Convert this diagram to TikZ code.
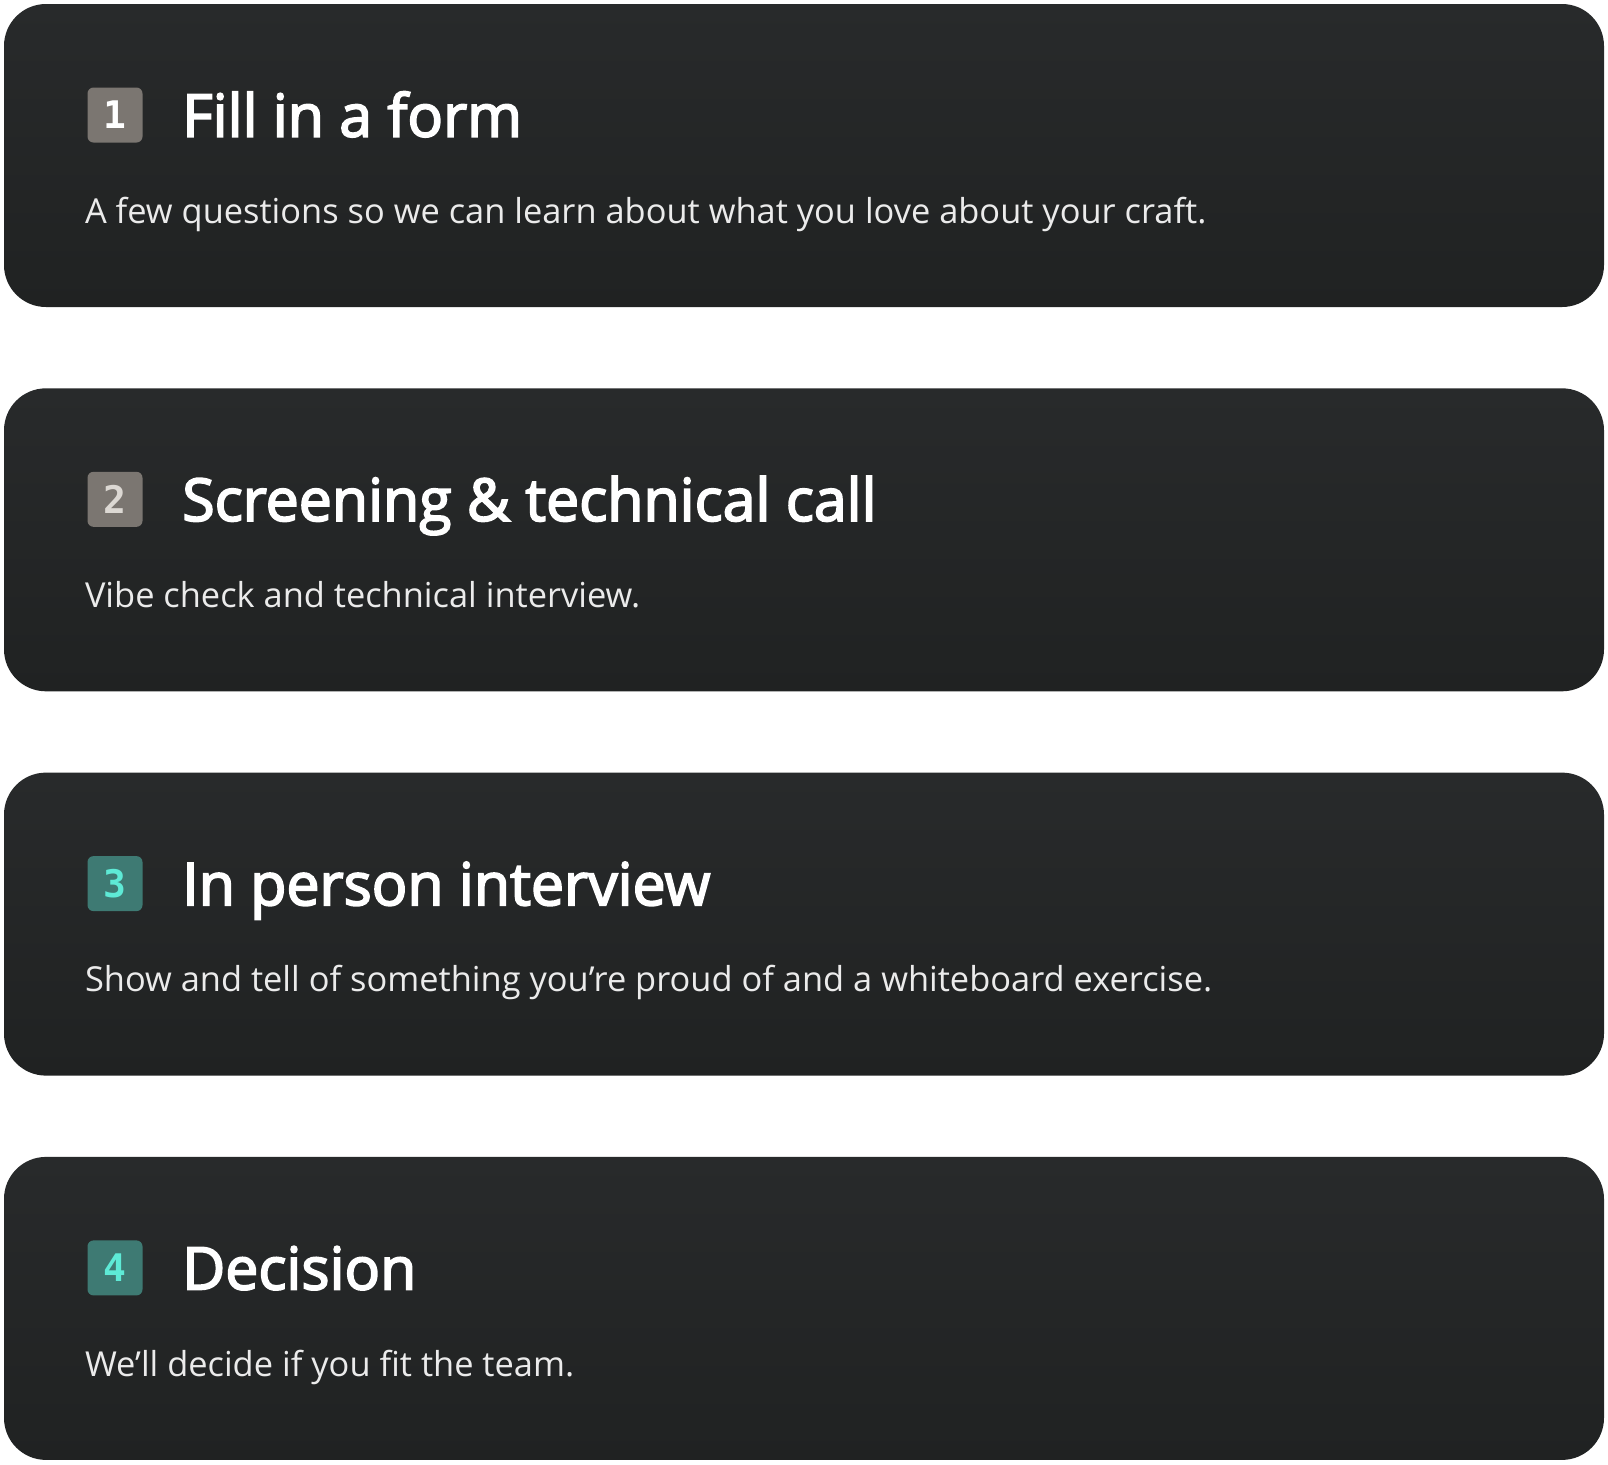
\documentclass[tikz,border=0pt]{standalone}
\usepackage{fontspec}
\setmainfont{Open Sans}
\newfontfamily\titlefont{Open Sans}[FakeBold=3]
\newfontfamily\numfont{DejaVu Sans Mono}
\usepackage{xcolor}
\usetikzlibrary{positioning}

\definecolor{cardtop}{HTML}{282A2B}
\definecolor{cardbot}{HTML}{202222}
\definecolor{badgegray}{HTML}{7B7671}
\definecolor{badgeteal}{HTML}{3E7A73}
\definecolor{numcyan}{HTML}{5EEAD6}
\definecolor{numlight}{HTML}{DCD8D3}

\begin{document}
\begin{tikzpicture}[
    x=0.5pt, y=-0.5pt,
    card/.style={rectangle, rounded corners=21pt, top color=cardtop, bottom color=cardbot, draw=none, minimum width=800pt, minimum height=151.5pt, inner sep=0pt},
    badge/.style={rectangle, rounded corners=3pt, minimum size=27.5pt, inner sep=0pt, font=\numfont\bfseries\fontsize{19}{19}\selectfont},
    graybadge/.style={badge, fill=badgegray, text=white},
    tealbadge/.style={badge, fill=badgeteal, text=numcyan},
    title/.style={anchor=base west, inner sep=0pt, text=white, font=\titlefont\fontsize{29.5}{29.5}\selectfont},
    desc/.style={anchor=base west, inner sep=0pt, text=white!92!black, font=\fontsize{17.2}{17.2}\selectfont}
]
\useasboundingbox (0,0) rectangle (1608,1464);

% cards
\node[card] (form) at (804,155.5) {};
\node[card] (screen) at (804,539.8) {};
\node[card] (inperson) at (804,924.1) {};
\node[card] (decision) at (804,1308.4) {};

% badges
\node[graybadge, below right=41.75pt and 41.75pt of form.north west] (formnum) {1};
\node[graybadge, text=numlight, below right=41.75pt and 41.75pt of screen.north west] (screennum) {2};
\node[tealbadge, below right=41.75pt and 41.75pt of inperson.north west] (inpersonnum) {3};
\node[tealbadge, below right=41.75pt and 41.75pt of decision.north west] (decisionnum) {4};

% titles
\node[title] (formtitle) at ([xshift=19.5pt, yshift=-10.8pt]formnum.east) {Fill in a form};
\node[title] (screentitle) at ([xshift=19.5pt, yshift=-10.8pt]screennum.east) {Screening \& technical call};
\node[title] (inpersontitle) at ([xshift=19.5pt, yshift=-10.8pt]inpersonnum.east) {In person interview};
\node[title] (decisiontitle) at ([xshift=19.5pt, yshift=-10.8pt]decisionnum.east) {Decision};

% descriptions
\node[desc] (formdesc) at ([xshift=40.5pt, yshift=-109.75pt]form.north west) {A few questions so we can learn about what you love about your craft.};
\node[desc] (screendesc) at ([xshift=40.5pt, yshift=-109.75pt]screen.north west) {Vibe check and technical interview.};
\node[desc] (inpersondesc) at ([xshift=40.5pt, yshift=-109.75pt]inperson.north west) {Show and tell of something you’re proud of and a whiteboard exercise.};
\node[desc] (decisiondesc) at ([xshift=40.5pt, yshift=-109.75pt]decision.north west) {We’ll decide if you fit the team.};

\end{tikzpicture}
\end{document}
